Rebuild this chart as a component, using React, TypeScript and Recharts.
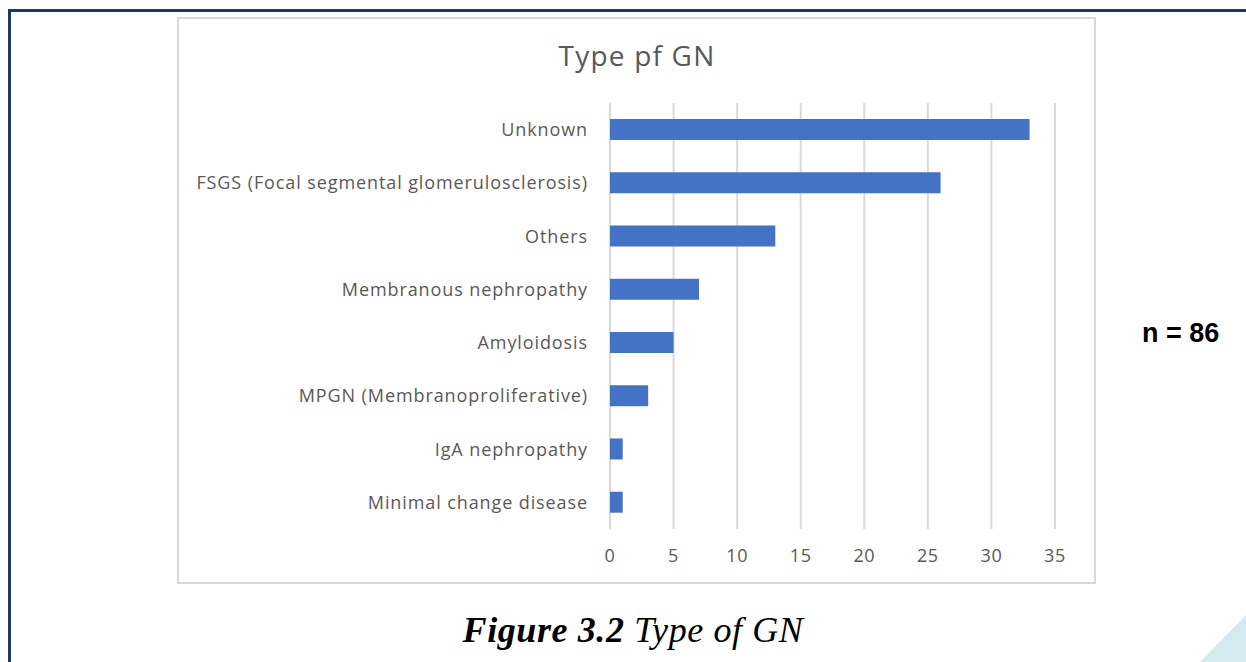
import React from "react";
import { BarChart, Bar, XAxis, YAxis, CartesianGrid } from "recharts";

const categories = [
  "Unknown",
  "FSGS (Focal segmental glomerulosclerosis)",
  "Others",
  "Membranous nephropathy",
  "Amyloidosis",
  "MPGN (Membranoproliferative)",
  "IgA nephropathy",
  "Minimal change disease",
];
const counts = [33, 26, 13, 7, 5, 3, 1, 1];
const xTicks = [0, 5, 10, 15, 20, 25, 30, 35];

const data = categories.map((name, i) => ({ name, value: counts[i] }));

const FONT = "'Open Sans', 'Noto Sans', sans-serif";
const GRAY = "#595959";

export default function App() {
  return (
    <div
      style={{
        position: "absolute",
        left: 0,
        top: 0,
        width: 1246,
        height: 662,
        overflow: "hidden",
        background: "#fff",
      }}
    >
      {/* page frame */}
      <div style={{ position: "absolute", left: 8, top: 9, width: 1238, height: 3, background: "#1f3864" }} />
      <div style={{ position: "absolute", left: 8, top: 9, width: 3, height: 653, background: "#1f3864" }} />

      {/* chart box */}
      <div
        style={{
          position: "absolute",
          left: 177,
          top: 17,
          width: 915,
          height: 563,
          border: "2px solid #d9d9d9",
        }}
      />
      <div
        style={{
          position: "absolute",
          left: 437,
          top: 36,
          width: 400,
          textAlign: "center",
          fontFamily: FONT,
          fontSize: 28,
          letterSpacing: 1.2,
          color: GRAY,
        }}
      >
        Type pf GN
      </div>

      <div style={{ position: "absolute", left: 0, top: 0 }}>
        <BarChart
          width={1246}
          height={662}
          layout="vertical"
          data={data}
          margin={{ top: 103, right: 191, bottom: 103, left: 0 }}
          barCategoryGap="30%"
        >
          <CartesianGrid horizontal={false} stroke="#d9d9d9" strokeWidth={2} />
          <XAxis
            type="number"
            domain={[0, 35]}
            ticks={xTicks}
            interval={0}
            axisLine={false}
            tickLine={false}
            tickMargin={14}
            height={30}
            tick={{ fill: GRAY, fontSize: 18, fontFamily: FONT, letterSpacing: 0.6 }}
          />
          <YAxis
            type="category"
            dataKey="name"
            width={610}
            axisLine={false}
            tickLine={false}
            tickMargin={16}
            interval={0}
            tick={{ fill: GRAY, fontSize: 18, fontFamily: FONT, letterSpacing: 0.9 }}
          />
          <Bar dataKey="value" fill="#4472c4" isAnimationActive={false} />
        </BarChart>
      </div>

      <div
        style={{
          position: "absolute",
          left: 1142,
          top: 318,
          fontFamily: "'Liberation Sans', sans-serif",
          fontWeight: "bold",
          fontSize: 27,
          color: "#000",
        }}
      >
        n = 86
      </div>

      <div
        style={{
          position: "absolute",
          left: 333,
          top: 609,
          width: 600,
          textAlign: "center",
          fontFamily: "'Liberation Serif', serif",
          fontStyle: "italic",
          fontSize: 36,
          letterSpacing: 0.6,
          color: "#000",
        }}
      >
        <b>Figure 3.2</b> Type of GN
      </div>

      <svg style={{ position: "absolute", left: 0, top: 0 }} width={1246} height={662}>
        <polygon points="1200,662 1246,615 1246,662" fill="#d4eaf0" />
      </svg>
    </div>
  );
}
